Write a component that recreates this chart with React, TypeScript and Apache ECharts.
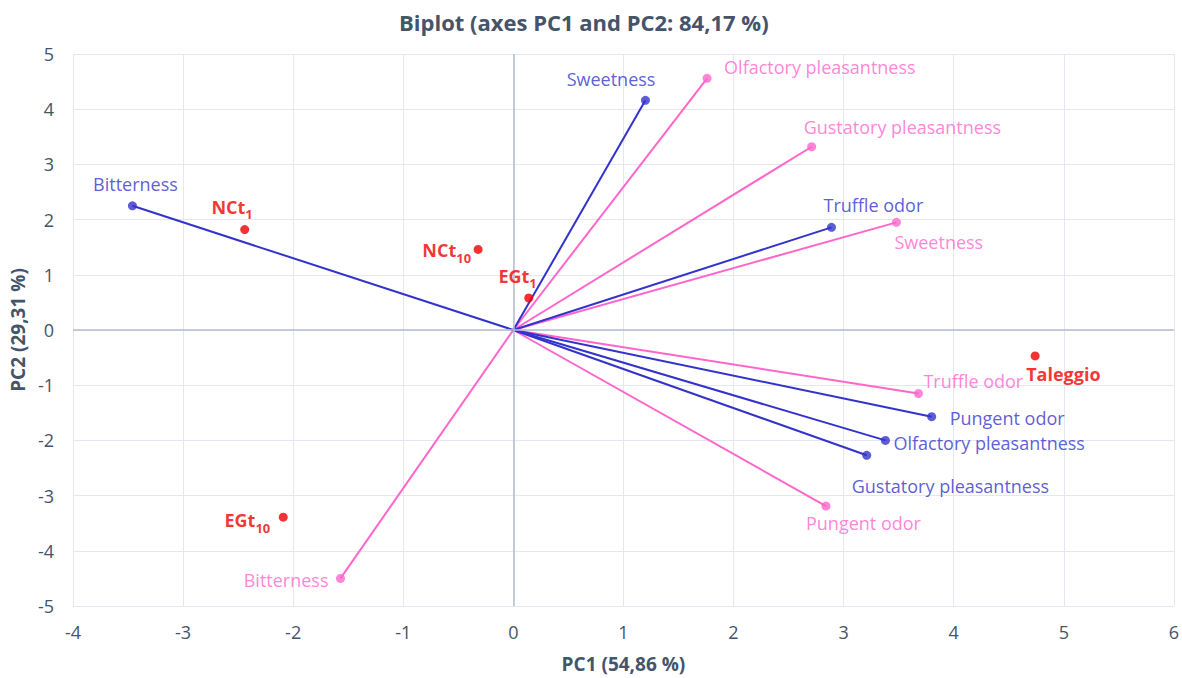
import React, { useEffect, useRef } from "react";
import * as echarts from "echarts";

// Variables (set A, blue)
const blueNames = ["Bitterness", "Sweetness", "Truffle odor", "Pungent odor", "Olfactory pleasantness", "Gustatory pleasantness"];
const blueX = [-3.46, 1.2, 2.89, 3.8, 3.38, 3.21];
const blueY = [2.25, 4.16, 1.86, -1.57, -2.0, -2.27];

// Variables (set B, pink)
const pinkNames = ["Olfactory pleasantness", "Gustatory pleasantness", "Sweetness", "Truffle odor", "Pungent odor", "Bitterness"];
const pinkX = [1.76, 2.71, 3.48, 3.68, 2.84, -1.57];
const pinkY = [4.56, 3.32, 1.95, -1.15, -3.19, -4.5];

// Observations (red)
const obsMain = ["NCt", "NCt", "EGt", "EGt", "Taleggio"];
const obsSub = ["1", "10", "1", "10", ""];
const obsX = [-2.44, -0.32, 0.14, -2.09, 4.74];
const obsY = [1.82, 1.46, 0.58, -3.39, -0.47];

// Axis ticks
const xMin = -4, xMax = 6, yMin = -5, yMax = 5;

// Label placement (style): [align, dx, dy]
const bluePlace: [string, number, number][] = [
  ["center", 3, -22], ["right", 10, -21], ["left", -8, -22],
  ["left", 18, 1], ["left", 8, 3], ["left", -15, 31],
];
const pinkPlace: [string, number, number][] = [
  ["left", 17, -11], ["left", -8, -20], ["left", -2, 20],
  ["left", 5, -12], ["left", -20, 17], ["right", -12, 2],
];
const obsPlace: [string, number, number][] = [
  ["right", 8, -26], ["right", -7, -2], ["right", 8, -25], ["right", -13, 0], ["left", -9, 15],
];

const BLUE = "#3333cc";
const PINK = "#ff66cc";
const RED = "#f00000";
const FONT = "'Open Sans', 'Noto Sans', sans-serif";
const AXIS_TEXT = "#44546a";

export default function App() {
  const ref = useRef<HTMLDivElement>(null);
  useEffect(() => {
    if (!ref.current) return;
    const chart = echarts.init(ref.current, undefined, { renderer: "svg" });

    const vecSeries = (names: string[], xs: number[], ys: number[], color: string) =>
      names.map((n, i) => ({
        type: "line",
        name: n,
        data: [[0, 0], [xs[i], ys[i]]],
        showSymbol: false,
        symbol: "none",
        lineStyle: { color, width: 2 },
        z: 3,
        silent: true,
      }));

    const endSeries = (names: string[], xs: number[], ys: number[], color: string, place: [string, number, number][]) => ({
      type: "scatter",
      symbolSize: 9,
      itemStyle: { color },
      z: 5,
      data: names.map((n, i) => ({
        value: [xs[i], ys[i]],
        name: n,
        label: {
          show: true,
          formatter: n,
          position: "inside",
          align: place[i][0],
          verticalAlign: "middle",
          offset: [place[i][1], place[i][2]],
          color,
          fontSize: 18,
          fontFamily: FONT,
        },
      })),
    });

    const obsSeries = {
      type: "scatter",
      symbolSize: 9,
      itemStyle: { color: RED },
      z: 6,
      data: obsMain.map((n, i) => ({
        value: [obsX[i], obsY[i]],
        name: n + obsSub[i],
        label: {
          show: true,
          formatter: obsSub[i] ? `{m|${n}}{s|${obsSub[i]}}` : `{m|${n}}`,
          position: "inside",
          align: obsPlace[i][0],
          verticalAlign: "middle",
          offset: [obsPlace[i][1], obsPlace[i][2]],
          rich: {
            m: { color: RED, fontSize: 18, fontWeight: "bold", fontFamily: FONT, verticalAlign: "bottom", lineHeight: 24 },
            s: { color: RED, fontSize: 13, fontWeight: "bold", fontFamily: FONT, verticalAlign: "bottom", lineHeight: 15, padding: [0, 0, -5, 0] },
          },
        },
      })),
    };

    const zeroLines = {
      type: "line",
      data: [],
      silent: true,
      z: 1,
      markLine: {
        silent: true,
        symbol: "none",
        animation: false,
        label: { show: false },
        lineStyle: { color: "#b4bccc", width: 1.5, type: "solid" },
        data: [{ xAxis: 0 }, { yAxis: 0 }],
      },
    };

    chart.setOption({
      animation: false,
      title: {
        text: "Biplot (axes PC1 and PC2: 84,17 %)",
        left: 394,
        top: 6,
        textStyle: { color: AXIS_TEXT, fontSize: 22, fontWeight: "bold", fontFamily: FONT },
      },
      grid: { left: 70, right: 5, top: 54, bottom: 58, containLabel: false },
      xAxis: {
        type: "value",
        min: xMin,
        max: xMax,
        interval: 1,
        name: "PC1 (54,86 %)",
        nameLocation: "middle",
        nameGap: 48,
        nameTextStyle: { color: AXIS_TEXT, fontSize: 19, fontWeight: "bold", fontFamily: FONT },
        axisLine: { show: false },
        axisTick: { show: false },
        axisLabel: { color: AXIS_TEXT, fontSize: 18, fontFamily: FONT, margin: 17 },
        splitLine: { show: true, lineStyle: { color: "#e3e7ef", width: 1 } },
      },
      yAxis: {
        type: "value",
        min: yMin,
        max: yMax,
        interval: 1,
        name: "PC2 (29,31 %)",
        nameLocation: "middle",
        nameGap: 44,
        nameTextStyle: { color: AXIS_TEXT, fontSize: 19, fontWeight: "bold", fontFamily: FONT },
        axisLine: { show: false },
        axisTick: { show: false },
        axisLabel: { color: AXIS_TEXT, fontSize: 18, fontFamily: FONT, margin: 19 },
        splitLine: { show: true, lineStyle: { color: "#e3e7ef", width: 1 } },
      },
      series: [
        zeroLines,
        ...vecSeries(pinkNames, pinkX, pinkY, PINK),
        ...vecSeries(blueNames, blueX, blueY, BLUE),
        endSeries(pinkNames, pinkX, pinkY, PINK, pinkPlace),
        endSeries(blueNames, blueX, blueY, BLUE, bluePlace),
        obsSeries,
      ],
    });
    return () => chart.dispose();
  }, []);
  return <div ref={ref} style={{ width: 1182, height: 678, position: "absolute", left: 0, top: 0, background: "#fff" }} />;
}
